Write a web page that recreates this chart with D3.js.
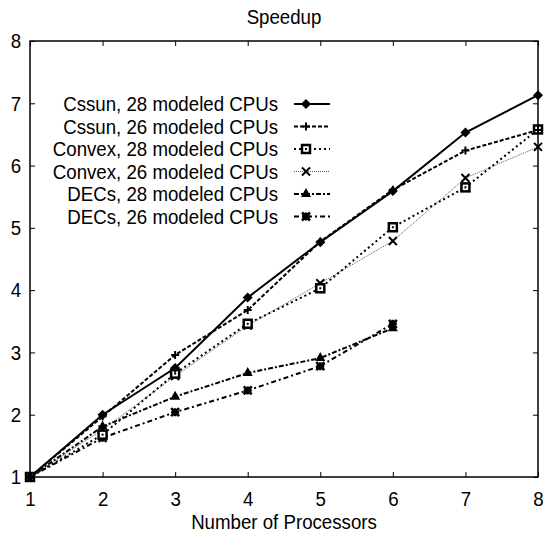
<!DOCTYPE html>
<html>
<head>
<meta charset="utf-8">
<script src="https://cdn.jsdelivr.net/npm/d3@7"></script>
<style>
  body { margin: 0; background: #fff; }
  text { font-family: "Liberation Sans", Arial, sans-serif; fill: #000; }
</style>
</head>
<body>
<div id="chart"></div>
<script>
// Chart data
var processors = [1, 2, 3, 4, 5, 6, 7, 8];
var xTicks = [1, 2, 3, 4, 5, 6, 7, 8];
var yTicks = [1, 2, 3, 4, 5, 6, 7, 8];
var seriesNames = [
  'Cssun, 28 modeled CPUs',
  'Cssun, 26 modeled CPUs',
  'Convex, 28 modeled CPUs',
  'Convex, 26 modeled CPUs',
  'DECs, 28 modeled CPUs',
  'DECs, 26 modeled CPUs'
];
var cssun28 = [1, 2.00, 2.75, 3.88, 4.77, 5.59, 6.53, 7.13];
var cssun26 = [1, 1.97, 2.96, 3.68, 4.78, 5.61, 6.24, 6.57];
var convex28 = [1, 1.68, 2.66, 3.46, 4.03, 5.01, 5.65, 6.58];
var convex26 = [1, 1.76, 2.62, 3.43, 4.11, 4.79, 5.80, 6.30];
var decs28 = [1, 1.81, 2.29, 2.67, 2.91, 3.39];
var decs26 = [1, 1.63, 2.04, 2.39, 2.78, 3.46];

var width = 545, height = 537;
var margin = {top: 41, right: 7, bottom: 60, left: 30};
var fontSize = '21px';
var squeeze = 0.89; // the original font is a bit narrow

var svg = d3.select('#chart').append('svg')
  .attr('width', width)
  .attr('height', height);

var x = d3.scaleLinear().domain([1, 8]).range([margin.left, width - margin.right]);
var y = d3.scaleLinear().domain([1, 8]).range([height - margin.bottom, margin.top]);

// Line styles per series
var styles = [
  {dash: null, width: 2, color: '#000', marker: 'diamond'},
  {dash: '4,2', width: 2, color: '#000', marker: 'plus'},
  {dash: '2,3', width: 2, color: '#000', marker: 'box'},
  {dash: '1,1', width: 1, color: '#555', marker: 'cross'},
  {dash: '5,2,2,2', width: 2, color: '#000', marker: 'triangle'},
  {dash: '5,3,2,3', width: 2, color: '#000', marker: 'star'}
];
var allValues = [cssun28, cssun26, convex28, convex26, decs28, decs26];
var series = seriesNames.map(function(name, i) {
  return {
    name: name,
    style: styles[i],
    values: allValues[i].map(function(v, j) { return {p: processors[j], s: v}; })
  };
});

// Narrow text helper
function addText(parent, tx, ty, str, anchor) {
  return parent.append('text')
    .attr('transform', 'translate(' + tx + ',' + ty + ') scale(' + squeeze + ',1)')
    .attr('text-anchor', anchor || 'start')
    .style('font-size', fontSize)
    .text(str);
}

// Frame and mirrored ticks
var x0 = x.range()[0], x1 = x.range()[1], y0 = y.range()[0], y1 = y.range()[1];
var tickLen = 5;

svg.append('g')
  .attr('transform', 'translate(0,' + y0 + ')')
  .call(d3.axisBottom(x).tickValues(xTicks).tickSize(-tickLen).tickPadding(14).tickFormat(d3.format('d')))
  .call(function(g) { g.select('.domain').remove(); });
svg.append('g')
  .attr('transform', 'translate(0,' + y1 + ')')
  .call(d3.axisTop(x).tickValues(xTicks).tickSize(-tickLen).tickFormat(''))
  .call(function(g) { g.select('.domain').remove(); });
svg.append('g')
  .attr('transform', 'translate(' + x0 + ',0)')
  .call(d3.axisLeft(y).tickValues(yTicks).tickSize(-tickLen).tickPadding(10).tickFormat(d3.format('d')))
  .call(function(g) { g.select('.domain').remove(); });
svg.append('g')
  .attr('transform', 'translate(' + x1 + ',0)')
  .call(d3.axisRight(y).tickValues(yTicks).tickSize(-tickLen).tickFormat(''))
  .call(function(g) { g.select('.domain').remove(); });

svg.selectAll('.tick line').attr('stroke', '#000').attr('stroke-width', 1);
svg.selectAll('.tick text')
  .style('font-size', fontSize)
  .attr('fill', '#000')
  .attr('transform', 'scale(' + squeeze + ',1)');

svg.append('rect')
  .attr('x', x0).attr('y', y1)
  .attr('width', x1 - x0).attr('height', y0 - y1)
  .attr('fill', 'none').attr('stroke', '#000').attr('stroke-width', 1.5);

// Titles
addText(svg, (x0 + x1) / 2, 24, 'Speedup', 'middle');
addText(svg, (x0 + x1) / 2, 529, 'Number of Processors', 'middle');

// Marker drawing
function drawMarker(g, type, cx, cy) {
  if (type === 'diamond') {
    g.append('path').attr('d', 'M' + cx + ',' + (cy - 5) + 'L' + (cx + 5) + ',' + cy + 'L' + cx + ',' + (cy + 5) + 'L' + (cx - 5) + ',' + cy + 'Z')
      .attr('fill', '#000');
  } else if (type === 'plus') {
    g.append('path').attr('d', 'M' + (cx - 4) + ',' + cy + 'H' + (cx + 4) + 'M' + cx + ',' + (cy - 4) + 'V' + (cy + 4))
      .attr('stroke', '#000').attr('stroke-width', 2);
  } else if (type === 'box') {
    g.append('rect').attr('x', cx - 4).attr('y', cy - 4).attr('width', 8).attr('height', 8)
      .attr('fill', '#fff').attr('stroke', '#000').attr('stroke-width', 2.5);
    g.append('rect').attr('x', cx - 1).attr('y', cy - 1).attr('width', 2).attr('height', 2)
      .attr('fill', '#000');
  } else if (type === 'cross') {
    g.append('path').attr('d', 'M' + (cx - 4) + ',' + (cy - 4) + 'L' + (cx + 4) + ',' + (cy + 4) + 'M' + (cx - 4) + ',' + (cy + 4) + 'L' + (cx + 4) + ',' + (cy - 4))
      .attr('stroke', '#000').attr('stroke-width', 2);
  } else if (type === 'triangle') {
    g.append('path').attr('d', 'M' + cx + ',' + (cy - 6) + 'L' + (cx + 5) + ',' + (cy + 3) + 'L' + (cx - 5) + ',' + (cy + 3) + 'Z')
      .attr('fill', '#000');
  } else if (type === 'star') {
    g.append('path').attr('d', 'M' + (cx - 4) + ',' + (cy - 4) + 'L' + (cx + 4) + ',' + (cy + 4) + 'M' + (cx - 4) + ',' + (cy + 4) + 'L' + (cx + 4) + ',' + (cy - 4) +
      'M' + (cx - 4) + ',' + cy + 'H' + (cx + 4) + 'M' + cx + ',' + (cy - 4) + 'V' + (cy + 4))
      .attr('stroke', '#000').attr('stroke-width', 2.5);
    g.append('rect').attr('x', cx - 3).attr('y', cy - 3).attr('width', 6).attr('height', 6).attr('fill', '#000');
  }
}

// Lines
var line = d3.line()
  .x(function(d) { return x(d.p); })
  .y(function(d) { return y(d.s); });

var lineG = svg.append('g');
series.slice().reverse().forEach(function(s) {
  lineG.append('path')
    .attr('d', line(s.values))
    .attr('fill', 'none')
    .attr('stroke', s.style.color)
    .attr('stroke-width', s.style.width)
    .attr('stroke-dasharray', s.style.dash);
});
series.slice().reverse().forEach(function(s) {
  var mg = lineG.append('g');
  s.values.forEach(function(d) { drawMarker(mg, s.style.marker, x(d.p), y(d.s)); });
});

// Legend
var legendTextX = 278, legendLineX0 = 294, legendLineX1 = 330, legendY0 = 104, legendStep = 22.5;
series.forEach(function(s, i) {
  var ly = legendY0 + i * legendStep;
  var g = svg.append('g');
  addText(g, legendTextX, ly + 7, s.name, 'end');
  g.append('line')
    .attr('x1', legendLineX0).attr('x2', legendLineX1)
    .attr('y1', ly).attr('y2', ly)
    .attr('stroke', s.style.color)
    .attr('stroke-width', s.style.width)
    .attr('stroke-dasharray', s.style.dash);
  drawMarker(g, s.style.marker, 306, ly);
});
</script>
</body>
</html>
